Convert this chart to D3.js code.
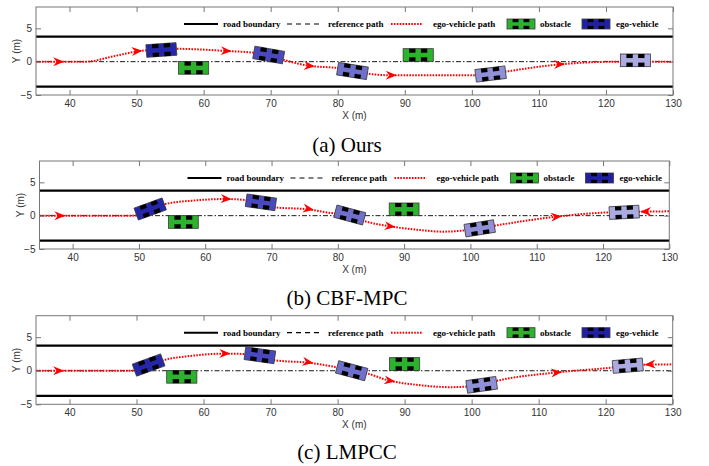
<!DOCTYPE html>
<html>
<head>
<meta charset="utf-8">
<script src="https://cdn.jsdelivr.net/npm/d3@7"></script>
<style>
body { margin: 0; background: #fff; }
svg { display: block; }
</style>
</head>
<body>
<svg id="chart" width="709" height="466"></svg>
<script>
// ---- data ----
const xTicks = [40, 50, 60, 70, 80, 90, 100, 110, 120, 130];
const yTicks = [-5, 0, 5];
const roadHalfWidth = 3.75;
const captions = ["(a) Ours", "(b) CBF-MPC", "(c) LMPCC"];
const legendLabels = ["road boundary", "reference path", "ego-vehicle path", "obstacle", "ego-vehicle"];

// ego-vehicle path [x, y]
const pathOurs = [[35, 0], [42.5, 0], [46.5, 0.8], [50.5, 1.6], [53.7, 1.85], [55.2, 1.95], [59, 1.85],
  [63.5, 1.6], [67.4, 1.35], [69.7, 1.0], [72, 0.25], [75.6, -0.6], [80.3, -1.0], [82.2, -1.4],
  [84.9, -1.85], [88.1, -2.05], [95, -2.05], [100.5, -2.05], [102.8, -1.85], [105, -1.5],
  [113.2, -0.4], [122, 0], [130, 0]];
const pathCbf = [[35, 0], [49, 0], [50.5, 0.3], [52, 0.95], [54, 1.75], [58, 2.25], [63.2, 2.5],
  [66, 2.35], [68.4, 2.0], [70.5, 1.25], [75.5, 0.95], [79.3, 0.35], [81.6, 0.1], [83.8, -0.75],
  [87.9, -1.6], [91.9, -2.1], [95.9, -2.4], [101.4, -1.9], [103.7, -1.5], [113, -0.15],
  [121, 0.5], [123.2, 0.55], [125.6, 0.6], [130, 0.65]];
const pathLmpcc = [[35, 0], [49, 0], [50.5, 0.3], [52, 0.9], [54.1, 1.6], [58, 2.2], [63.2, 2.55],
  [66, 2.5], [68.4, 2.3], [70.7, 1.55], [75.6, 1.2], [79.4, 0.6], [82, 0.0], [83.8, -0.25],
  [87.8, -1.5], [91.8, -2.1], [96.8, -2.45], [101.5, -2.1], [103.8, -1.5], [112.7, -0.25],
  [121.2, 0.5], [123.3, 0.75], [125.8, 0.9], [130, 0.95]];

// arrow heads [x tip, y, direction]
const arrowsOurs = [[39.2, 0, 1], [50.9, 1.65, 1], [64.2, 1.55, 1], [76.6, -0.7, 1], [88.8, -2.05, 1], [113.9, -0.35, 1]];
const arrowsCbf = [[38.9, 0, 1], [64, 2.48, 1], [76.4, 0.9, 1], [88.7, -1.7, 1], [113.8, -0.1, 1], [125.6, 0.6, -1]];
const arrowsLmpcc = [[39.2, 0, 1], [64, 2.55, 1], [76.4, 1.15, 1], [88.6, -1.6, 1], [113.5, -0.2, 1], [125.8, 0.9, -1]];

// obstacles [cx, cy]
const obstaclesOurs = [[58.5, -0.93], [92, 1.0]];
const obstaclesCbf = [[56.7, -0.95], [90, 0.95]];
const obstaclesLmpcc = [[56.75, -0.9], [90, 1.0]];

// ego-vehicle snapshots [cx, cy, heading deg]
const egoOurs = [[53.7, 1.75, 4], [69.7, 1.0, -10], [82.2, -1.4, -9], [102.8, -1.85, 7], [124.4, 0.2, 0]];
const egoCbf = [[51.7, 1.0, 20], [68.4, 2.0, -8], [81.8, 0.1, -15], [101.4, -1.9, 9], [123.2, 0.5, 3]];
const egoLmpcc = [[51.8, 0.85, 20], [68.4, 2.3, -8], [82.1, 0.0, -15], [101.5, -2.1, 8], [123.3, 0.75, 5]];

const egoColors = ["#2626a8", "#4949bd", "#6f6fcc", "#9090d8", "#ababe2"];
const carLength = 4.5, carWidth = 1.9;

const panels = [
  {path: pathOurs, arrows: arrowsOurs, obstacles: obstaclesOurs, ego: egoOurs,
   left: 36, right: 673, top: 7, bottom: 95, capY: 152},
  {path: pathCbf, arrows: arrowsCbf, obstacles: obstaclesCbf, ego: egoCbf,
   left: 39.5, right: 669.3, top: 161, bottom: 249, capY: 305},
  {path: pathLmpcc, arrows: arrowsLmpcc, obstacles: obstaclesLmpcc, ego: egoLmpcc,
   left: 36, right: 672.7, top: 315.7, bottom: 404.3, capY: 459}
];

const svg = d3.select("#chart");
const sans = "'Liberation Sans', Arial, sans-serif";
const serif = "'Liberation Serif', 'Times New Roman', serif";

// car icon: body plus four black wheels, L and W in pixels
function drawCar(g, L, W, fill) {
  g.append("rect")
    .attr("x", -L / 2).attr("y", -W / 2)
    .attr("width", L).attr("height", W)
    .attr("fill", fill)
    .attr("stroke", "#3a3a3a")
    .attr("stroke-width", 0.8);
  for (const fx of [0.2, 0.59]) {
    for (const top of [true, false]) {
      g.append("rect")
        .attr("x", -L / 2 + fx * L)
        .attr("y", top ? -W / 2 : W / 2 - 0.32 * W)
        .attr("width", 0.21 * L)
        .attr("height", 0.32 * W)
        .attr("fill", "#000");
    }
  }
}

panels.forEach((p, i) => {
  const x = d3.scaleLinear().domain([35, 130]).range([p.left, p.right]);
  const y = d3.scaleLinear().domain([-5, 8.2]).range([p.bottom, p.top]);
  const kx = x(1) - x(0), ky = y(0) - y(1);
  const g = svg.append("g");

  // road boundaries
  [roadHalfWidth, -roadHalfWidth].forEach(v => {
    g.append("line")
      .attr("x1", x(35)).attr("x2", x(130))
      .attr("y1", y(v)).attr("y2", y(v))
      .attr("stroke", "#000").attr("stroke-width", 2.2);
  });

  // reference path
  g.append("line")
    .attr("x1", x(35)).attr("x2", x(130))
    .attr("y1", y(0)).attr("y2", y(0))
    .attr("stroke", "#000").attr("stroke-width", 0.9)
    .attr("stroke-dasharray", "5,2,1.5,2");

  // ego-vehicle path
  const line = d3.line().x(d => x(d[0])).y(d => y(d[1])).curve(d3.curveMonotoneX);
  g.append("path")
    .attr("d", line(p.path))
    .attr("fill", "none")
    .attr("stroke", "#ff0000")
    .attr("stroke-width", 2)
    .attr("stroke-dasharray", "1.6,1.3");

  // arrow heads follow the path direction
  p.arrows.forEach(a => {
    let k = p.path.findIndex(q => q[0] >= a[0]);
    if (k < 1) k = 1;
    const p0 = p.path[k - 1], p1 = p.path[k];
    let ang = Math.atan2(y(p1[1]) - y(p0[1]), x(p1[0]) - x(p0[0])) * 180 / Math.PI;
    if (a[2] < 0) ang += 180;
    g.append("path")
      .attr("d", "M0,0L-11,-4.5L-7.5,0L-11,4.5Z")
      .attr("transform", `translate(${x(a[0])},${y(a[1])}) rotate(${ang})`)
      .attr("fill", "#ff0000");
  });

  // obstacles
  p.obstacles.forEach(o => {
    const c = g.append("g").attr("transform", `translate(${x(o[0])},${y(o[1])})`);
    drawCar(c, carLength * kx, carWidth * ky, "#2cb22c");
  });

  // ego-vehicle snapshots
  p.ego.forEach((e, j) => {
    const c = g.append("g").attr("transform", `translate(${x(e[0])},${y(e[1])}) rotate(${-e[2]})`);
    drawCar(c, carLength * kx, carWidth * ky, egoColors[j]);
  });

  // legend
  const ly = p.top + 17;
  const lx = p.left + 148;
  const lg = g.append("g").attr("font-family", serif).attr("font-weight", "bold").attr("font-size", 9);
  lg.append("line").attr("x1", lx).attr("x2", lx + 34).attr("y1", ly).attr("y2", ly)
    .attr("stroke", "#000").attr("stroke-width", 2);
  lg.append("line").attr("x1", lx + 103).attr("x2", lx + 137).attr("y1", ly).attr("y2", ly)
    .attr("stroke", "#000").attr("stroke-width", 1.2).attr("stroke-dasharray", "5,4");
  lg.append("line").attr("x1", lx + 207).attr("x2", lx + 239).attr("y1", ly).attr("y2", ly)
    .attr("stroke", "#ff0000").attr("stroke-width", 2).attr("stroke-dasharray", "1.6,1.3");
  drawCar(lg.append("g").attr("transform", `translate(${lx + 337},${ly})`), 28, 10, "#2cb22c");
  drawCar(lg.append("g").attr("transform", `translate(${lx + 412},${ly})`), 28, 10, "#2020a0");
  const textX = [39, 144, 249, 356, 432];
  legendLabels.forEach((t, j) => {
    lg.append("text").attr("x", lx + textX[j]).attr("y", ly + 3).text(t);
  });

  // axes: ticks pointing inward on all sides
  const axB = g.append("g").attr("transform", `translate(0,${p.bottom})`)
    .call(d3.axisBottom(x).tickValues(xTicks).tickSize(-5).tickPadding(5));
  const axT = g.append("g").attr("transform", `translate(0,${p.top})`)
    .call(d3.axisTop(x).tickValues(xTicks).tickSize(-5).tickFormat(""));
  const axL = g.append("g").attr("transform", `translate(${p.left},0)`)
    .call(d3.axisLeft(y).tickValues(yTicks).tickSize(-5).tickPadding(4));
  const axR = g.append("g").attr("transform", `translate(${p.right},0)`)
    .call(d3.axisRight(y).tickValues(yTicks).tickSize(-5).tickFormat(""));
  [axB, axT, axL, axR].forEach(a => {
    a.select(".domain").remove();
    a.selectAll(".tick line").attr("stroke", "#777");
    a.selectAll("text").attr("font-family", sans).attr("font-size", 10).attr("fill", "#333");
  });

  g.append("rect")
    .attr("x", p.left).attr("y", p.top)
    .attr("width", p.right - p.left).attr("height", p.bottom - p.top)
    .attr("fill", "none").attr("stroke", "#777").attr("stroke-width", 1);

  // axis titles
  g.append("text")
    .attr("x", (p.left + p.right) / 2).attr("y", p.bottom + 24)
    .attr("text-anchor", "middle")
    .attr("font-family", sans).attr("font-size", 10).attr("fill", "#333")
    .text("X (m)");
  g.append("text")
    .attr("transform", `translate(${p.left - 16},${(p.top + p.bottom) / 2}) rotate(-90)`)
    .attr("text-anchor", "middle")
    .attr("font-family", sans).attr("font-size", 10).attr("fill", "#333")
    .text("Y (m)");

  // caption
  svg.append("text")
    .attr("x", 347).attr("y", p.capY)
    .attr("text-anchor", "middle")
    .attr("font-family", serif).attr("font-size", 21).attr("fill", "#000")
    .text(captions[i]);
});
</script>
</body>
</html>
